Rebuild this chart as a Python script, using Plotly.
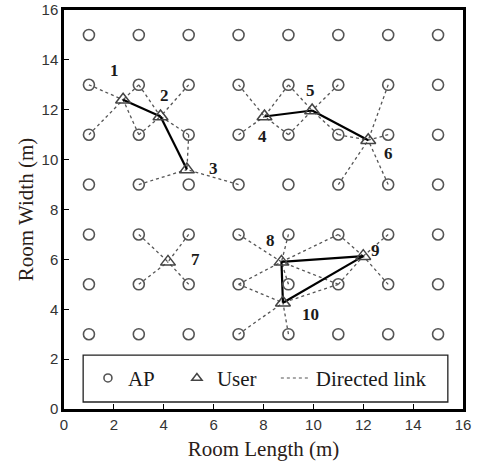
import plotly.graph_objects as go

# ---- data ----
ap_cols = [1, 3, 5, 7, 9, 11, 13, 15]
ap_rows = [3, 5, 7, 9, 11, 13, 15]

user_x = [2.37, 3.87, 4.93, 8.04, 9.95, 12.2, 4.17, 8.72, 12.0, 8.78]
user_y = [12.4, 11.73, 9.6, 11.73, 11.97, 10.78, 5.9, 5.9, 6.13, 4.26]
user_labels = ["1", "2", "3", "4", "5", "6", "7", "8", "9", "10"]
label_x = [2.04, 4.04, 6.0, 7.97, 9.87, 13.01, 5.28, 8.27, 12.51, 9.87]
label_y = [13.56, 12.56, 9.63, 10.92, 12.79, 10.23, 5.99, 6.76, 6.36, 3.79]

# directed links: (user index, AP x, AP y)
link_user = [0, 0, 0, 0, 1, 1, 1, 1, 2, 2, 2, 3, 3, 3, 3, 4, 4, 4, 4,
             5, 5, 5, 5, 5, 6, 6, 6, 6, 7, 7, 7, 7, 7, 7, 8, 8, 8, 8, 9, 9, 9, 9]
link_ap_x = [1, 3, 1, 3, 3, 5, 3, 5, 5, 3, 7, 7, 9, 7, 9, 9, 11, 9, 11,
             13, 11, 13, 11, 13, 3, 5, 3, 5, 7, 9, 11, 7, 11, 9, 11, 13, 11, 13, 7, 7, 9, 11]
link_ap_y = [13, 13, 11, 11, 13, 13, 11, 11, 11, 9, 9, 13, 13, 11, 11, 13, 13, 11, 11,
             13, 11, 11, 9, 9, 7, 7, 5, 5, 7, 7, 7, 5, 5, 5, 7, 7, 5, 5, 5, 3, 3, 5]

# user-user links
pair_a = [0, 1, 3, 4, 7, 7, 8]
pair_b = [1, 2, 4, 5, 8, 9, 9]

# ---- build ----
ap_x = [c for r in ap_rows for c in ap_cols]
ap_y = [r for r in ap_rows for c in ap_cols]

dx, dy = [], []
for u, ax, ay in zip(link_user, link_ap_x, link_ap_y):
    dx += [ax, user_x[u], None]
    dy += [ay, user_y[u], None]

sx, sy = [], []
for a, b in zip(pair_a, pair_b):
    sx += [user_x[a], user_x[b], None]
    sy += [user_y[a], user_y[b], None]

serif = "Liberation Serif"
sans = "Liberation Sans"
link_line = dict(color="#555555", width=1.3, dash="dot")
ap_marker = dict(symbol="circle-open", color="#555555", line=dict(width=1.6))
user_marker = dict(symbol="triangle-up-open", color="#444444", line=dict(width=1.5))

fig = go.Figure()
fig.add_trace(go.Scatter(x=dx, y=dy, mode="lines", showlegend=False,
                         line=link_line, hoverinfo="skip"))
fig.add_trace(go.Scatter(x=sx, y=sy, mode="lines", showlegend=False,
                         line=dict(color="black", width=2.2), hoverinfo="skip"))
fig.add_trace(go.Scatter(x=ap_x, y=ap_y, mode="markers", showlegend=False,
                         marker=dict(size=11, **ap_marker)))
fig.add_trace(go.Scatter(x=user_x, y=user_y, mode="markers", showlegend=False,
                         marker=dict(size=13, **user_marker)))

# legend entries (smaller symbols, as in the reference legend)
fig.add_trace(go.Scatter(x=[None], y=[None], mode="markers", name="AP",
                         marker=dict(size=8, **ap_marker), legend="legend"))
fig.add_trace(go.Scatter(x=[None], y=[None], mode="markers", name="User",
                         marker=dict(size=9, **user_marker), legend="legend2"))
fig.add_trace(go.Scatter(x=[None], y=[None], mode="lines", name="Directed link",
                         line=dict(color="#555555", width=1.1, dash="dot"),
                         legend="legend3"))

for t, lx, ly in zip(user_labels, label_x, label_y):
    fig.add_annotation(x=lx, y=ly, text="<b>%s</b>" % t, showarrow=False,
                       font=dict(family=serif, size=17, color="#1a1a1a"))

fig.add_shape(type="rect", xref="paper", yref="paper",
              x0=0.048, x1=0.962, y0=0.0175, y1=0.135,
              line=dict(color="#222222", width=1.3), fillcolor="white", layer="below")

axis_common = dict(range=[0, 16], dtick=2, showgrid=False, zeroline=False,
                   showline=True, linecolor="black", linewidth=2.5, mirror=True,
                   ticks="inside", ticklen=5, tickwidth=1.2, tickcolor="black",
                   automargin=False,
                   tickfont=dict(family=sans, size=15, color="#333333"))

leg_common = dict(orientation="h", xanchor="left", y=0.077, yanchor="middle",
                  bgcolor="rgba(0,0,0,0)", borderwidth=0, itemwidth=30,
                  font=dict(family=serif, size=21, color="#1a1a1a"))

fig.update_layout(
    width=480, height=465,
    margin=dict(l=64, r=17, t=10, b=56),
    paper_bgcolor="white", plot_bgcolor="white",
    xaxis=dict(title=dict(text="Room Length (m)", standoff=10,
                          font=dict(family=serif, size=21, color="#2a2018")),
               **axis_common),
    yaxis=dict(title=dict(text="Room Width (m)", standoff=3,
                          font=dict(family=serif, size=21, color="#2a2018")),
               **axis_common),
    legend=dict(x=0.060, **leg_common),
    legend2=dict(x=0.283, **leg_common),
    legend3=dict(x=0.531, **leg_common),
    showlegend=True,
)

fig.write_html("out.html", config={"displayModeBar": False},
               post_script="document.body.style.margin='0';")
